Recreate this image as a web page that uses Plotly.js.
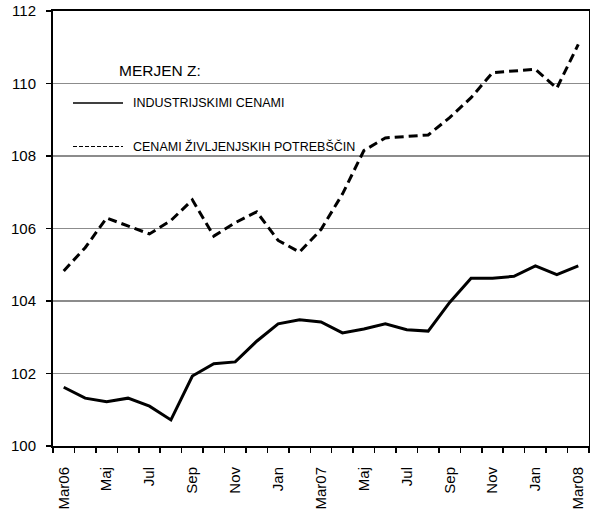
<!DOCTYPE html>
<html>
<head>
<meta charset="utf-8">
<script src="https://cdn.plot.ly/plotly-2.35.2.min.js"></script>
<style>html,body{margin:0;padding:0;background:#fff;}#chart{width:590px;height:517px;}</style>
</head>
<body>
<div id="chart"></div>
<script>
// Months Mar06 .. Mar08
const months = ["Mar06","Apr06","Maj06","Jun06","Jul06","Avg06","Sep06","Okt06","Nov06","Dec06","Jan07","Feb07",
                "Mar07","Apr07","Maj07","Jun07","Jul07","Avg07","Sep07","Okt07","Nov07","Dec07","Jan08","Feb08","Mar08"];
const tickLabels = ["Mar06","Maj","Jul","Sep","Nov","Jan","Mar07","Maj","Jul","Sep","Nov","Jan","Mar08"];
const tickIndex = [0,2,4,6,8,10,12,14,16,18,20,22,24];

const industrijske = [101.62,101.32,101.22,101.32,101.10,100.72,101.93,102.27,102.32,102.89,103.37,103.48,
                      103.42,103.12,103.23,103.37,103.21,103.17,103.96,104.63,104.63,104.68,104.97,104.73,104.97];
const zivljenjske = [104.83,105.47,106.29,106.06,105.85,106.22,106.79,105.79,106.16,106.46,105.67,105.35,
                     105.97,106.95,108.15,108.50,108.53,108.58,109.06,109.61,110.30,110.35,110.39,109.87,111.08];

const legendTitle = "MERJEN Z:";
const seriesNames = ["INDUSTRIJSKIMI CENAMI","CENAMI ŽIVLJENJSKIH POTREBŠČIN"];

const xIdx = months.map((m,i)=>i);
const FONT = "Liberation Sans, Arial, sans-serif";

const traces = [
  {x: xIdx, y: industrijske, name: seriesNames[0], mode: "lines", text: months,
   line: {color: "#000", width: 3}},
  {x: xIdx, y: zivljenjske, name: seriesNames[1], mode: "lines", text: months,
   line: {color: "#000", width: 3, dash: "9px,5px"}}
];

const layout = {
  width: 590, height: 517,
  margin: {l: 53, r: 1, t: 11, b: 71},
  paper_bgcolor: "#fff", plot_bgcolor: "#fff",
  showlegend: false,
  font: {family: FONT, color: "#000", size: 15},
  xaxis: {
    range: [-0.5, 24.5], tickmode: "array", tickvals: tickIndex, ticktext: tickLabels,
    tickangle: -90, ticks: "", ticklen: 0, ticklabelstandoff: 13,
    showgrid: false, zeroline: false,
    showline: true, linecolor: "#000", linewidth: 2, mirror: true,
    minor: {tick0: -0.5, dtick: 1, ticks: "outside", ticklen: 5, tickcolor: "#000", tickwidth: 1.5, showgrid: false},
    tickfont: {size: 15, family: FONT}
  },
  yaxis: {
    range: [100, 112], dtick: 2, tick0: 100,
    ticks: "outside", ticklen: 5, tickcolor: "#000", tickwidth: 1.5,
    showgrid: true, gridcolor: "#8c8c8c", gridwidth: 1.5,
    zeroline: false, showline: true, linecolor: "#000", linewidth: 2, mirror: true,
    ticklabelstandoff: 7,
    tickfont: {size: 15, family: FONT}
  },
  shapes: [
    {type: "line", xref: "paper", yref: "paper", x0: 20/536, x1: 70/536, y0: (446-103)/435, y1: (446-103)/435,
     line: {color: "#000", width: 1.5}},
    {type: "line", xref: "paper", yref: "paper", x0: 20/536, x1: 70/536, y0: (446-146.5)/435, y1: (446-146.5)/435,
     line: {color: "#000", width: 1.2, dash: "4px,2px"}}
  ],
  annotations: [
    {xref: "paper", yref: "paper", x: 64/536, y: (446-70)/435, xanchor: "left", yanchor: "middle",
     text: legendTitle, showarrow: false, font: {size: 15.5, family: FONT, color: "#000"}},
    {xref: "paper", yref: "paper", x: 78/536, y: (446-103)/435, xanchor: "left", yanchor: "middle",
     text: seriesNames[0], showarrow: false, font: {size: 12.5, family: FONT, color: "#000"}},
    {xref: "paper", yref: "paper", x: 78/536, y: (446-146.5)/435, xanchor: "left", yanchor: "middle",
     text: seriesNames[1], showarrow: false, font: {size: 12.5, family: FONT, color: "#000"}}
  ]
};

Plotly.newPlot("chart", traces, layout, {displayModeBar: false, staticPlot: true});
</script>
</body>
</html>
